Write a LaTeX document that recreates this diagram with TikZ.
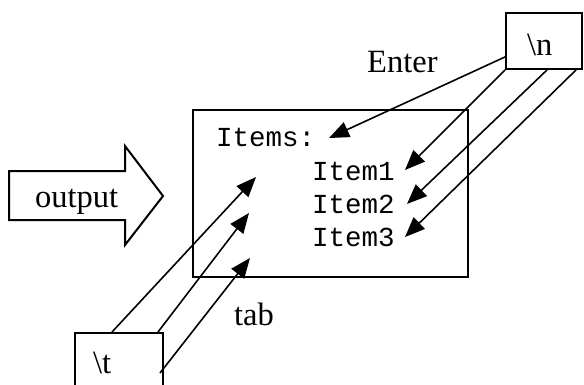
\documentclass[tikz,border=0pt]{standalone}
\usepackage{fontspec}
\setmainfont{Liberation Serif}
\setmonofont{Liberation Mono}
\usetikzlibrary{arrows.meta,calc}
\begin{document}
\begin{tikzpicture}[x=1pt,y=-1pt,
  screen/.style={draw,line width=2.4pt,inner sep=0pt,minimum width=275pt,minimum height=167pt},
  keybox/.style={draw,line width=1.8pt,inner sep=0pt},
  lbl/.style={font=\fontsize{32.5}{38}\selectfont,inner sep=0pt,anchor=base west},
  code/.style={font=\ttfamily\fontsize{27.5}{32}\selectfont,inner sep=0pt,anchor=base west},
  ptr/.style={line width=1.6pt,-{Triangle[length=20pt,width=16pt]}}]
\clip (0,0) rectangle (584,384);

% output window
\node[screen] (win) at (330.5,193.5) {};
\node[code] (items) at (216,146) {Items:};
\node[code] (item1) at (312,180) {Item1};
\node[code] (item2) at (312,213) {Item2};
\node[code] (item3) at (312,246) {Item3};

% big "output" arrow
\draw[line width=2pt,line join=miter]
  (9,171) -- (125,171) -- (125,146) -- (163,196) -- (125,245) -- (125,220) -- (9,220) -- cycle;
\node[lbl] (outtxt) at (35,207) {output};

% newline key
\node[keybox,minimum width=76pt,minimum height=56pt] (nbox) at (544,41) {};
\node[lbl] (ntxt) at (527,55) {\textbackslash n};
\node[lbl] (enter) at (367,72) {Enter};

% tab key
\node[keybox,minimum width=88pt,minimum height=80pt,anchor=north west] (tbox) at (74,332) {};
\node[lbl] (ttxt) at (93,373) {\textbackslash t};
\node[lbl] (tab) at (234,325) {tab};

% connector ends
\coordinate (n1) at ($(nbox.south west)+(0,-13)$);
\coordinate (n2) at (nbox.south west);
\coordinate (n3) at ($(nbox.south west)+(42,0)$);
\coordinate (n4) at ($(nbox.south west)+(71,0)$);
\coordinate (e0) at (329,138);
\coordinate (e1) at (405,170);
\coordinate (e2) at (407,204);
\coordinate (e3) at (405,237);

\coordinate (t1) at ($(tbox.north west)+(38,0)$);
\coordinate (t2) at ($(tbox.north west)+(84,0)$);
\coordinate (t3) at ($(tbox.north west)+(86,41)$);
\coordinate (s1) at (256,177);
\coordinate (s2) at (249,213);
\coordinate (s3) at (250,258);

\draw[ptr] (n1) -- (e0);
\draw[ptr] (n2) -- (e1);
\draw[ptr] (n3) -- (e2);
\draw[ptr] (n4) -- (e3);

\draw[ptr] (t1) -- (s1);
\draw[ptr] (t2) -- (s2);
\draw[ptr] (t3) -- (s3);
\end{tikzpicture}
\end{document}
